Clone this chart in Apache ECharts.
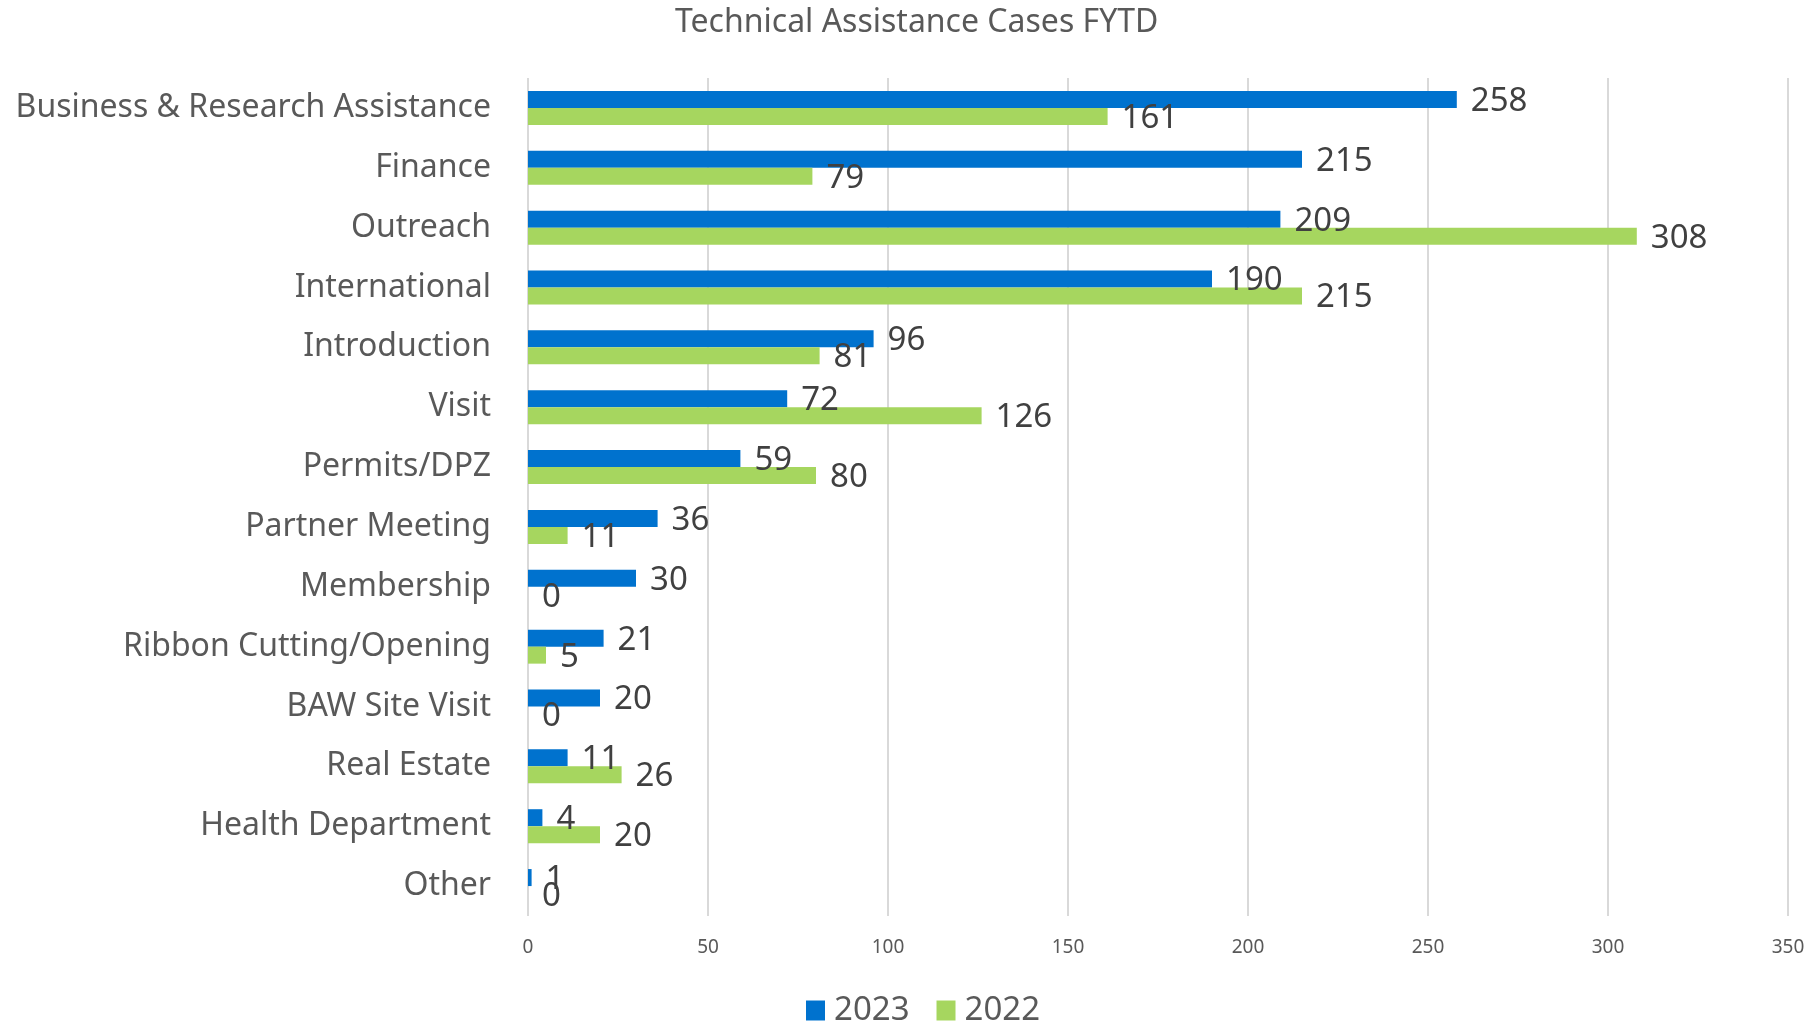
<!DOCTYPE html>
<html>
<head>
<meta charset="utf-8">
<script src="https://cdn.jsdelivr.net/npm/echarts@6/dist/echarts.min.js"></script>
<style>
  html, body { margin: 0; padding: 0; background: #fff; }
  #main { width: 1812px; height: 1024px; }
</style>
</head>
<body>
<div id="main"></div>
<script>
var categories = [
  'Business & Research Assistance', 'Finance', 'Outreach', 'International',
  'Introduction', 'Visit', 'Permits/DPZ', 'Partner Meeting', 'Membership',
  'Ribbon Cutting/Opening', 'BAW Site Visit', 'Real Estate',
  'Health Department', 'Other'
];
var values2023 = [258, 215, 209, 190, 96, 72, 59, 36, 30, 21, 20, 11, 4, 1];
var values2022 = [161, 79, 308, 215, 81, 126, 80, 11, 0, 5, 0, 26, 20, 0];
var xTicks = [0, 50, 100, 150, 200, 250, 300, 350];

var font = 'Noto Sans';
var myChart = echarts.init(document.getElementById('main'));

// value labels sit to the right of each bar
function barLabel() {
  return {
    show: true,
    position: 'right',
    distance: 14,
    offset: [0, 2],
    color: '#404040',
    fontFamily: font,
    fontSize: 33
  };
}

myChart.setOption({
  animation: false,
  title: {
    text: 'Technical Assistance Cases FYTD',
    left: 670,
    top: 2,
    textStyle: { color: '#595959', fontFamily: font, fontSize: 32, fontWeight: 'normal' }
  },
  legend: {
    bottom: -8,
    left: 801,
    itemWidth: 19,
    itemHeight: 20,
    itemGap: 27,
    icon: 'rect',
    textStyle: { color: '#595959', fontFamily: font, fontSize: 33, padding: [0, 0, 0, 4] },
    data: ['2023', '2022']
  },
  grid: { left: 528, right: 24, top: 78, bottom: 108 },
  xAxis: {
    type: 'value',
    min: xTicks[0],
    max: xTicks[xTicks.length - 1],
    interval: 50,
    axisLine: { show: false },
    axisTick: { show: false },
    splitLine: { lineStyle: { color: '#D9D9D9', width: 2 } },
    axisLabel: { color: '#595959', fontFamily: font, fontSize: 19, margin: 22 }
  },
  yAxis: {
    type: 'category',
    inverse: true,
    data: categories,
    axisLine: { show: false },
    axisTick: { show: false },
    axisLabel: { color: '#595959', fontFamily: font, fontSize: 32, margin: 37 }
  },
  series: [
    {
      name: '2023',
      type: 'bar',
      data: values2023,
      barWidth: 17,
      barGap: '0%',
      itemStyle: { color: '#0072CE' },
      label: barLabel()
    },
    {
      name: '2022',
      type: 'bar',
      data: values2022,
      barWidth: 17,
      itemStyle: { color: '#A6D65F' },
      label: barLabel()
    }
  ]
});
</script>
</body>
</html>
